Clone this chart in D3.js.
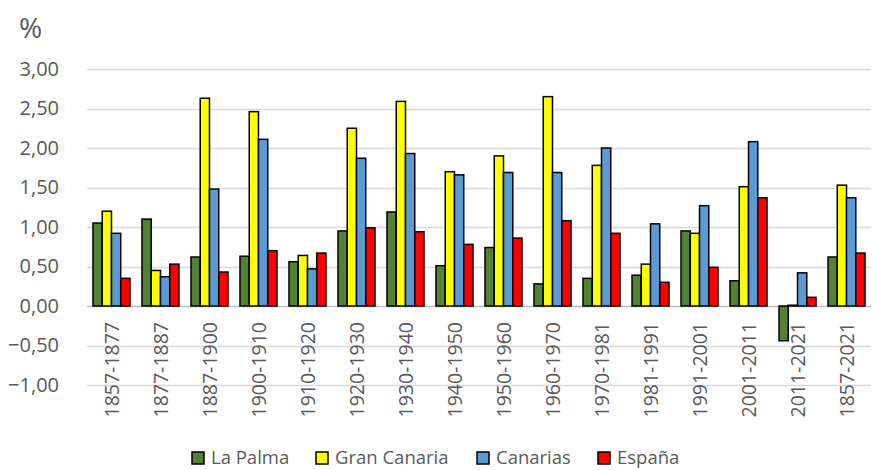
<!DOCTYPE html>
<html><head><meta charset="utf-8">
<script src="https://cdn.jsdelivr.net/npm/d3@7"></script>
<style>body{margin:0;background:#fff}svg text{font-family:"Open Sans","Noto Sans",sans-serif;fill:#595959}</style>
</head><body><svg id="c" width="877" height="470"></svg>
<script>
const categories = ["1857-1877","1877-1887","1887-1900","1900-1910","1910-1920","1920-1930","1930-1940","1940-1950","1950-1960","1960-1970","1970-1981","1981-1991","1991-2001","2001-2011","2011-2021","1857-2021"];
const seriesNames = ["La Palma","Gran Canaria","Canarias","España"];
const laPalma     = [1.05,1.10,0.62,0.63,0.56,0.95,1.19,0.51,0.74,0.28,0.35,0.39,0.95,0.32,-0.44,0.62];
const granCanaria = [1.20,0.45,2.63,2.46,0.64,2.25,2.59,1.70,1.90,2.65,1.78,0.53,0.92,1.51,0.01,1.53];
const canarias    = [0.92,0.37,1.48,2.11,0.47,1.87,1.93,1.66,1.69,1.69,2.00,1.04,1.27,2.08,0.42,1.37];
const espana      = [0.35,0.53,0.43,0.70,0.67,0.99,0.94,0.78,0.86,1.08,0.92,0.30,0.49,1.37,0.11,0.67];
const yTicks = [-1,-0.5,0,0.5,1,1.5,2,2.5,3];
const colors = ["#548235","#ffff00","#5b9bd5","#ff0000"];
const seriesValues = [laPalma, granCanaria, canarias, espana];

const svg = d3.select("#c");
const x = d3.scaleBand().domain(categories).range([87, 871]).paddingInner(0.245).paddingOuter(0.122);
const y = d3.scaleLinear().domain([-1, 3]).range([385, 69]);
const fmt = d => d3.format(".2f")(d).replace(".", ",");

// grid
svg.append("g").selectAll("line").data(yTicks).join("line")
  .attr("x1", 87).attr("x2", 871)
  .attr("y1", d => Math.round(y(d)) + 0.5).attr("y2", d => Math.round(y(d)) + 0.5)
  .attr("stroke", d => d === 0 ? "#bfbfbf" : "#d9d9d9").attr("stroke-width", 1.5);

// y labels
const yAxis = d3.axisLeft(y).tickValues(yTicks).tickFormat(fmt).tickSize(0).tickPadding(0);
const ga = svg.append("g").attr("transform", "translate(59,0)").call(yAxis);
ga.select(".domain").remove();
ga.selectAll("text").attr("font-size", 20).attr("fill", "#595959").attr("font-family", null);

svg.append("text").attr("x", 19).attr("y", 38).attr("font-size", 28).text("%");

// bars
const inner = d3.scaleBand().domain(d3.range(4)).range([0, x.bandwidth()]).padding(0);
seriesValues.forEach((vals, si) => {
  svg.append("g").selectAll("rect").data(vals).join("rect")
    .attr("x", (d, i) => x(categories[i]) + inner(si))
    .attr("width", inner.bandwidth())
    .attr("y", d => y(Math.max(0, d)))
    .attr("height", d => Math.abs(y(d) - y(0)))
    .attr("fill", colors[si]).attr("stroke", "#000").attr("stroke-width", 1.5);
});

// x labels
const xAxis = d3.axisBottom(x).tickSize(0).tickPadding(0);
const gx = svg.append("g").attr("transform", "translate(0,322)").call(xAxis);
gx.select(".domain").remove();
gx.selectAll("text").attr("font-size", 19.5).attr("fill", "#595959").attr("font-family", null)
  .attr("transform", "rotate(-90)").attr("text-anchor", "end").attr("dy", "0.36em").attr("x", 0).attr("y", 0);

// legend
const legX = [192, 316, 477, 598];
const lg = svg.append("g");
seriesNames.forEach((n, i) => {
  lg.append("rect").attr("x", legX[i]).attr("y", 452).attr("width", 12).attr("height", 12)
    .attr("fill", colors[i]).attr("stroke", "#000").attr("stroke-width", 1.5);
  lg.append("text").attr("x", legX[i] + 19).attr("y", 464).attr("font-size", 18.5).text(n);
});
</script></body></html>
